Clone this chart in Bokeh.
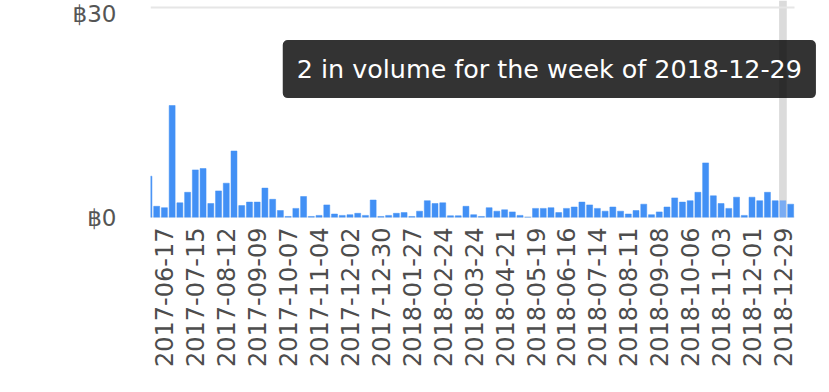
import pandas as pd
from bokeh.plotting import figure
from bokeh.models import Range1d, FixedTicker, Label, BoxAnnotation, DatetimeTickFormatter
from bokeh.embed import file_html
from bokeh.resources import INLINE

# Weekly trading volume (in BTC), one bar per week starting on Saturdays
first_week = "2017-06-03"
volumes = [
    5.9, 1.6, 1.4, 16.0, 2.1, 3.6, 6.8, 7.0, 2.0, 3.8,
    4.9, 9.5, 1.7, 2.2, 2.2, 4.2, 2.6, 1.0, 0.15, 1.3,
    3.0, 0.15, 0.3, 1.8, 0.5, 0.3, 0.4, 0.6, 0.3, 2.5,
    0.15, 0.3, 0.6, 0.7, 0.15, 0.9, 2.4, 2.0, 2.1, 0.25,
    0.25, 1.6, 0.4, 0.15, 1.4, 0.9, 1.1, 0.8, 0.3, 0.05,
    1.3, 1.3, 1.4, 0.7, 1.3, 1.5, 2.2, 1.8, 1.3, 0.9,
    1.5, 0.9, 0.5, 1.0, 1.9, 0.4, 0.8, 1.5, 2.8, 2.2,
    2.4, 3.6, 7.8, 3.1, 2.0, 1.3, 2.9, 0.3, 2.9, 2.4,
    3.6, 2.4, 2.4, 1.9,
]
tick_labels = [
    "2017-06-17", "2017-07-15", "2017-08-12", "2017-09-09", "2017-10-07",
    "2017-11-04", "2017-12-02", "2017-12-30", "2018-01-27", "2018-02-24",
    "2018-03-24", "2018-04-21", "2018-05-19", "2018-06-16", "2018-07-14",
    "2018-08-11", "2018-09-08", "2018-10-06", "2018-11-03", "2018-12-01",
    "2018-12-29",
]
y_ticks = [0, 30]
hover_week = "2018-12-29"

DAY = 86400000.0
WEEK = 7 * DAY

weeks = pd.date_range(first_week, periods=len(volumes), freq="7D")
xs = [w.value / 1e6 for w in weeks]
hover_idx = list(weeks.strftime("%Y-%m-%d")).index(hover_week)

x_start = xs[0] + 0.2 * WEEK
data_end = xs[-1] + 0.5 * WEEK   # where the bar area (and grid) ends

p = figure(
    width=829, height=392,
    x_axis_type="datetime",
    output_backend="svg", toolbar_location=None,
    x_range=Range1d(x_start, xs[0] + 86.73 * WEEK),
    y_range=Range1d(0, 31),
    min_border_left=150, min_border_right=10,
    min_border_top=0, min_border_bottom=175,
)
p.outline_line_color = None
p.background_fill_color = "white"
p.border_fill_color = "white"

# hover band behind the highlighted week
band = BoxAnnotation(
    left=xs[hover_idx] - 0.5 * WEEK, right=xs[hover_idx] + 0.5 * WEEK,
    fill_color="black", fill_alpha=0.14, line_color=None, level="underlay",
)
p.add_layout(band)

# horizontal grid lines, limited to the bar area
p.xgrid.visible = False
p.ygrid.visible = False
p.segment(x0=[x_start] * len(y_ticks), x1=[data_end] * len(y_ticks),
          y0=y_ticks, y1=y_ticks, line_color="#e6e6e6", line_width=2)

colors = ["#4290f5"] * len(volumes)
colors[hover_idx] = "#7aacf3"
p.vbar(x=xs, top=volumes, bottom=0, width=0.77 * WEEK,
       fill_color=colors, line_color=colors, line_width=0.5)

# axes
p.yaxis.ticker = FixedTicker(ticks=y_ticks)
p.yaxis.major_label_overrides = {t: "\u0e3f" + str(t) for t in y_ticks}
p.yaxis.axis_line_color = None
p.yaxis.major_tick_line_color = None
p.yaxis.minor_tick_line_color = None
p.yaxis.major_label_standoff = 28
p.yaxis.major_label_text_font = "DejaVu Sans"
p.yaxis.major_label_text_font_size = "23px"
p.yaxis.major_label_text_color = "#555555"

p.xaxis.ticker = FixedTicker(ticks=[pd.Timestamp(t).value / 1e6 for t in tick_labels])
fmt = "%Y-%m-%d"
p.xaxis.formatter = DatetimeTickFormatter(days=fmt, months=fmt, years=fmt, hours=fmt)
p.xaxis.major_label_orientation = 3.14159265 / 2
p.xaxis.axis_line_color = None
p.xaxis.major_tick_line_color = None
p.xaxis.minor_tick_line_color = None
p.xaxis.major_label_standoff = 4
p.xaxis.major_label_text_font = "DejaVu Sans"
p.xaxis.major_label_text_font_size = "24px"
p.xaxis.major_label_text_color = "#4d4d4d"

# tooltip for the hovered week
tip = Label(
    x=xs[hover_idx], y=21.2, x_offset=33,
    text=f"{volumes[hover_idx]:.0f} in volume for the week of {hover_week}",
    text_align="right", text_baseline="middle",
    text_font="DejaVu Sans", text_font_size="25.4px", text_color="white",
    background_fill_color="black", background_fill_alpha=0.8,
    padding=14, border_radius=5,
)
p.add_layout(tip)

open("out.html", "w").write(file_html(p, INLINE))
